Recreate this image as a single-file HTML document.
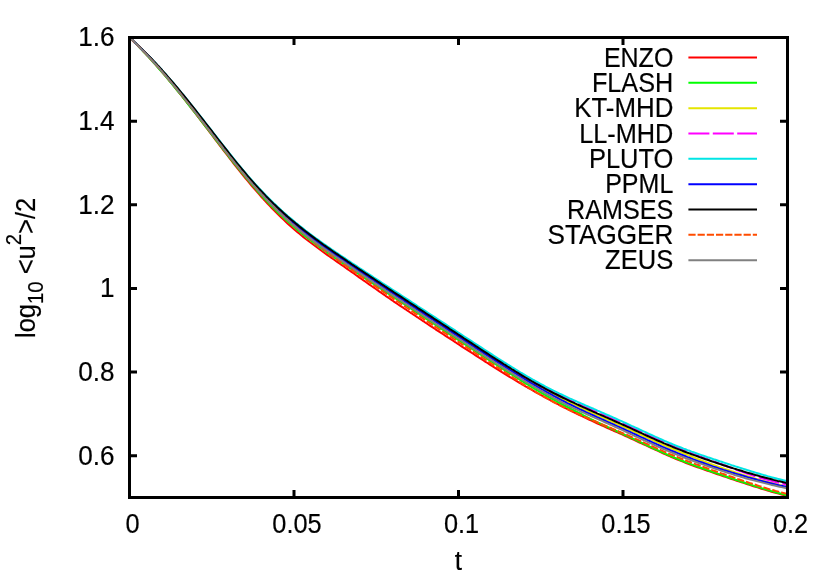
<!DOCTYPE html>
<html><head><meta charset="utf-8"><title>plot</title>
<style>html,body{margin:0;padding:0;background:#fff}#w{position:relative;width:830px;height:581px;overflow:hidden;background:#fff}#w svg{position:absolute;left:0;top:0;display:block}#t{position:absolute;left:0;top:0;width:830px;height:581px;will-change:transform;font-family:"Liberation Sans",sans-serif;font-size:83.10px;line-height:1;white-space:nowrap;color:#000;-webkit-text-stroke:0.6px #000}#t div{position:absolute;left:0;top:0;transform-origin:0 0}#t .s{font-size:.8em;position:relative}</style></head>
<body><div id="w">
<svg width="830" height="581" viewBox="0 0 830 581">
<defs><clipPath id="c"><rect x="129.5" y="37.5" width="658" height="460"/></clipPath></defs>
<rect width="830" height="581" fill="#fff"/>
<g fill="none" stroke-width="2" stroke-linejoin="round" clip-path="url(#c)">
<polyline stroke="#ff0000" points="129.5,37.5 131.5,39.4 133.5,41.4 135.5,43.3 137.5,45.3 139.5,47.4 141.5,49.4 143.5,51.5 145.5,53.6 147.5,55.7 149.5,57.9 151.5,60.1 153.5,62.3 155.5,64.5 157.5,66.8 159.5,69.0 161.5,71.4 163.5,73.7 165.5,76.0 167.5,78.4 169.5,80.8 171.5,83.2 173.5,85.6 175.5,88.1 177.5,90.6 179.5,93.0 181.5,95.5 183.5,98.1 185.5,100.6 187.5,103.1 189.5,105.7 191.5,108.3 193.5,110.9 195.5,113.5 197.5,116.1 199.5,118.7 201.5,121.3 203.5,123.9 205.5,126.6 207.5,129.2 209.5,131.9 211.5,134.5 213.5,137.1 215.5,139.8 217.5,142.4 219.5,145.1 221.5,147.7 223.5,150.3 225.5,152.9 227.5,155.5 229.5,158.1 231.5,160.7 233.5,163.3 235.5,165.8 237.5,168.3 239.5,170.8 241.5,173.3 243.5,175.8 245.5,178.3 247.5,180.7 249.5,183.1 251.5,185.5 253.5,187.8 255.5,190.1 257.5,192.4 259.5,194.7 261.5,197.0 263.5,199.2 265.5,201.3 267.5,203.5 269.5,205.6 271.5,207.7 273.5,209.8 275.5,211.8 277.5,213.8 279.5,215.8 281.5,217.7 283.5,219.6 285.5,221.5 287.5,223.4 289.5,225.2 291.5,227.0 293.5,228.7 295.5,230.5 297.5,232.2 299.5,233.8 301.5,235.5 303.5,237.1 305.5,238.7 307.5,240.2 309.5,241.8 311.5,243.3 313.5,244.8 315.5,246.3 317.5,247.8 319.5,249.3 321.5,250.7 323.5,252.2 325.5,253.6 327.5,255.1 329.5,256.5 331.5,257.9 333.5,259.3 335.5,260.7 337.5,262.1 339.5,263.5 341.5,264.9 343.5,266.3 345.5,267.7 347.5,269.1 349.5,270.5 351.5,271.9 353.5,273.3 355.5,274.7 357.5,276.1 359.5,277.6 361.5,279.0 363.5,280.4 365.5,281.8 367.5,283.2 369.5,284.6 371.5,286.0 373.5,287.4 375.5,288.8 377.5,290.2 379.5,291.6 381.5,293.0 383.5,294.4 385.5,295.8 387.5,297.1 389.5,298.5 391.5,299.9 393.5,301.3 395.5,302.6 397.5,304.0 399.5,305.3 401.5,306.6 403.5,308.0 405.5,309.3 407.5,310.7 409.5,312.0 411.5,313.3 413.5,314.7 415.5,316.0 417.5,317.3 419.5,318.7 421.5,320.0 423.5,321.3 425.5,322.7 427.5,324.0 429.5,325.3 431.5,326.6 433.5,327.9 435.5,329.3 437.5,330.6 439.5,331.9 441.5,333.2 443.5,334.5 445.5,335.8 447.5,337.1 449.5,338.4 451.5,339.7 453.5,341.0 455.5,342.3 457.5,343.7 459.5,345.0 461.5,346.3 463.5,347.6 465.5,348.9 467.5,350.1 469.5,351.4 471.5,352.7 473.5,354.0 475.5,355.3 477.5,356.6 479.5,357.9 481.5,359.2 483.5,360.5 485.5,361.8 487.5,363.0 489.5,364.3 491.5,365.6 493.5,366.8 495.5,368.1 497.5,369.4 499.5,370.6 501.5,371.9 503.5,373.1 505.5,374.4 507.5,375.6 509.5,376.8 511.5,378.0 513.5,379.2 515.5,380.4 517.5,381.6 519.5,382.8 521.5,384.0 523.5,385.1 525.5,386.3 527.5,387.5 529.5,388.6 531.5,389.7 533.5,390.9 535.5,392.0 537.5,393.1 539.5,394.2 541.5,395.3 543.5,396.4 545.5,397.5 547.5,398.6 549.5,399.7 551.5,400.8 553.5,401.8 555.5,402.9 557.5,403.9 559.5,405.0 561.5,406.0 563.5,407.0 565.5,408.1 567.5,409.1 569.5,410.0 571.5,411.0 573.5,412.0 575.5,413.0 577.5,414.0 579.5,415.0 581.5,415.9 583.5,416.9 585.5,417.9 587.5,418.8 589.5,419.8 591.5,420.7 593.5,421.7 595.5,422.6 597.5,423.5 599.5,424.4 601.5,425.3 603.5,426.2 605.5,427.1 607.5,428.0 609.5,428.9 611.5,429.8 613.5,430.7 615.5,431.5 617.5,432.4 619.5,433.3 621.5,434.2 623.5,435.1 625.5,436.0 627.5,436.9 629.5,437.9 631.5,438.8 633.5,439.7 635.5,440.6 637.5,441.5 639.5,442.5 641.5,443.4 643.5,444.3 645.5,445.2 647.5,446.2 649.5,447.1 651.5,448.0 653.5,448.9 655.5,449.8 657.5,450.7 659.5,451.7 661.5,452.6 663.5,453.5 665.5,454.4 667.5,455.3 669.5,456.1 671.5,457.0 673.5,457.9 675.5,458.7 677.5,459.5 679.5,460.3 681.5,461.1 683.5,461.9 685.5,462.7 687.5,463.5 689.5,464.2 691.5,465.0 693.5,465.7 695.5,466.5 697.5,467.2 699.5,467.9 701.5,468.6 703.5,469.3 705.5,470.0 707.5,470.7 709.5,471.4 711.5,472.1 713.5,472.8 715.5,473.5 717.5,474.2 719.5,474.9 721.5,475.5 723.5,476.2 725.5,476.9 727.5,477.6 729.5,478.3 731.5,479.0 733.5,479.6 735.5,480.3 737.5,481.0 739.5,481.6 741.5,482.3 743.5,482.9 745.5,483.6 747.5,484.2 749.5,484.9 751.5,485.5 753.5,486.2 755.5,486.8 757.5,487.4 759.5,488.0 761.5,488.7 763.5,489.3 765.5,489.9 767.5,490.5 769.5,491.1 771.5,491.7 773.5,492.2 775.5,492.8 777.5,493.4 779.5,493.9 781.5,494.5 783.5,495.0 785.5,495.6 787.5,496.1"/>
<polyline stroke="#00ff00" points="129.5,37.5 131.5,39.4 133.5,41.4 135.5,43.4 137.5,45.4 139.5,47.5 141.5,49.6 143.5,51.7 145.5,53.8 147.5,55.9 149.5,58.1 151.5,60.3 153.5,62.5 155.5,64.7 157.5,67.0 159.5,69.3 161.5,71.6 163.5,73.9 165.5,76.2 167.5,78.6 169.5,81.0 171.5,83.4 173.5,85.9 175.5,88.3 177.5,90.8 179.5,93.2 181.5,95.7 183.5,98.2 185.5,100.7 187.5,103.3 189.5,105.8 191.5,108.3 193.5,110.9 195.5,113.4 197.5,116.0 199.5,118.6 201.5,121.2 203.5,123.8 205.5,126.3 207.5,128.9 209.5,131.5 211.5,134.1 213.5,136.7 215.5,139.3 217.5,141.9 219.5,144.5 221.5,147.1 223.5,149.6 225.5,152.2 227.5,154.7 229.5,157.3 231.5,159.8 233.5,162.3 235.5,164.8 237.5,167.3 239.5,169.8 241.5,172.2 243.5,174.7 245.5,177.1 247.5,179.4 249.5,181.8 251.5,184.1 253.5,186.4 255.5,188.7 257.5,191.0 259.5,193.3 261.5,195.5 263.5,197.7 265.5,199.8 267.5,201.9 269.5,204.0 271.5,206.1 273.5,208.1 275.5,210.0 277.5,212.0 279.5,213.9 281.5,215.8 283.5,217.6 285.5,219.5 287.5,221.3 289.5,223.0 291.5,224.8 293.5,226.5 295.5,228.2 297.5,229.9 299.5,231.5 301.5,233.2 303.5,234.8 305.5,236.4 307.5,237.9 309.5,239.5 311.5,241.0 313.5,242.5 315.5,244.0 317.5,245.5 319.5,247.0 321.5,248.4 323.5,249.9 325.5,251.3 327.5,252.7 329.5,254.2 331.5,255.6 333.5,257.0 335.5,258.3 337.5,259.7 339.5,261.1 341.5,262.5 343.5,263.8 345.5,265.2 347.5,266.5 349.5,267.9 351.5,269.2 353.5,270.6 355.5,271.9 357.5,273.3 359.5,274.6 361.5,275.9 363.5,277.3 365.5,278.6 367.5,279.9 369.5,281.2 371.5,282.6 373.5,283.9 375.5,285.2 377.5,286.5 379.5,287.8 381.5,289.2 383.5,290.5 385.5,291.8 387.5,293.1 389.5,294.4 391.5,295.7 393.5,297.1 395.5,298.4 397.5,299.7 399.5,301.0 401.5,302.3 403.5,303.7 405.5,305.0 407.5,306.3 409.5,307.6 411.5,308.9 413.5,310.3 415.5,311.6 417.5,312.9 419.5,314.3 421.5,315.6 423.5,316.9 425.5,318.2 427.5,319.6 429.5,320.9 431.5,322.2 433.5,323.5 435.5,324.9 437.5,326.2 439.5,327.5 441.5,328.8 443.5,330.1 445.5,331.4 447.5,332.7 449.5,334.1 451.5,335.4 453.5,336.7 455.5,338.0 457.5,339.3 459.5,340.6 461.5,341.9 463.5,343.3 465.5,344.6 467.5,345.9 469.5,347.2 471.5,348.5 473.5,349.8 475.5,351.2 477.5,352.5 479.5,353.8 481.5,355.1 483.5,356.4 485.5,357.7 487.5,359.0 489.5,360.3 491.5,361.6 493.5,362.9 495.5,364.2 497.5,365.4 499.5,366.7 501.5,368.0 503.5,369.3 505.5,370.6 507.5,371.8 509.5,373.1 511.5,374.4 513.5,375.7 515.5,377.0 517.5,378.2 519.5,379.5 521.5,380.8 523.5,382.0 525.5,383.3 527.5,384.5 529.5,385.7 531.5,387.0 533.5,388.2 535.5,389.4 537.5,390.5 539.5,391.7 541.5,392.9 543.5,394.0 545.5,395.2 547.5,396.3 549.5,397.4 551.5,398.5 553.5,399.6 555.5,400.7 557.5,401.8 559.5,402.8 561.5,403.9 563.5,404.9 565.5,406.0 567.5,407.0 569.5,408.0 571.5,409.1 573.5,410.1 575.5,411.1 577.5,412.2 579.5,413.2 581.5,414.2 583.5,415.3 585.5,416.3 587.5,417.3 589.5,418.3 591.5,419.3 593.5,420.3 595.5,421.3 597.5,422.3 599.5,423.2 601.5,424.1 603.5,425.1 605.5,426.0 607.5,426.9 609.5,427.8 611.5,428.8 613.5,429.7 615.5,430.6 617.5,431.5 619.5,432.4 621.5,433.3 623.5,434.3 625.5,435.2 627.5,436.1 629.5,437.1 631.5,438.0 633.5,438.9 635.5,439.9 637.5,440.8 639.5,441.8 641.5,442.7 643.5,443.6 645.5,444.6 647.5,445.5 649.5,446.5 651.5,447.4 653.5,448.3 655.5,449.3 657.5,450.2 659.5,451.1 661.5,452.0 663.5,452.9 665.5,453.8 667.5,454.7 669.5,455.6 671.5,456.4 673.5,457.3 675.5,458.1 677.5,458.9 679.5,459.7 681.5,460.5 683.5,461.3 685.5,462.1 687.5,462.9 689.5,463.6 691.5,464.4 693.5,465.1 695.5,465.9 697.5,466.6 699.5,467.3 701.5,468.0 703.5,468.7 705.5,469.4 707.5,470.1 709.5,470.8 711.5,471.5 713.5,472.2 715.5,472.9 717.5,473.6 719.5,474.3 721.5,474.9 723.5,475.6 725.5,476.3 727.5,477.0 729.5,477.7 731.5,478.4 733.5,479.0 735.5,479.7 737.5,480.4 739.5,481.0 741.5,481.7 743.5,482.3 745.5,483.0 747.5,483.6 749.5,484.3 751.5,484.9 753.5,485.6 755.5,486.2 757.5,486.8 759.5,487.4 761.5,488.1 763.5,488.7 765.5,489.3 767.5,489.9 769.5,490.5 771.5,491.1 773.5,491.6 775.5,492.2 777.5,492.8 779.5,493.3 781.5,493.9 783.5,494.4 785.5,495.0 787.5,495.5"/>
<polyline stroke="#e5e500" points="129.5,37.5 131.5,39.3 133.5,41.2 135.5,43.1 137.5,45.1 139.5,47.0 141.5,49.0 143.5,51.0 145.5,53.0 147.5,55.1 149.5,57.2 151.5,59.3 153.5,61.5 155.5,63.6 157.5,65.8 159.5,68.0 161.5,70.3 163.5,72.5 165.5,74.8 167.5,77.1 169.5,79.4 171.5,81.8 173.5,84.2 175.5,86.5 177.5,88.9 179.5,91.4 181.5,93.8 183.5,96.2 185.5,98.7 187.5,101.2 189.5,103.7 191.5,106.2 193.5,108.7 195.5,111.2 197.5,113.8 199.5,116.3 201.5,118.9 203.5,121.4 205.5,124.0 207.5,126.6 209.5,129.1 211.5,131.7 213.5,134.3 215.5,136.9 217.5,139.5 219.5,142.0 221.5,144.6 223.5,147.2 225.5,149.7 227.5,152.2 229.5,154.8 231.5,157.3 233.5,159.8 235.5,162.3 237.5,164.8 239.5,167.2 241.5,169.6 243.5,172.0 245.5,174.4 247.5,176.8 249.5,179.1 251.5,181.4 253.5,183.7 255.5,185.9 257.5,188.1 259.5,190.3 261.5,192.4 263.5,194.5 265.5,196.6 267.5,198.6 269.5,200.6 271.5,202.6 273.5,204.6 275.5,206.5 277.5,208.4 279.5,210.3 281.5,212.1 283.5,213.9 285.5,215.7 287.5,217.5 289.5,219.2 291.5,220.9 293.5,222.6 295.5,224.3 297.5,225.9 299.5,227.5 301.5,229.1 303.5,230.7 305.5,232.3 307.5,233.8 309.5,235.4 311.5,236.9 313.5,238.4 315.5,239.9 317.5,241.3 319.5,242.8 321.5,244.2 323.5,245.7 325.5,247.1 327.5,248.5 329.5,249.9 331.5,251.3 333.5,252.7 335.5,254.1 337.5,255.4 339.5,256.8 341.5,258.2 343.5,259.5 345.5,260.9 347.5,262.3 349.5,263.6 351.5,265.0 353.5,266.3 355.5,267.7 357.5,269.0 359.5,270.4 361.5,271.7 363.5,273.0 365.5,274.4 367.5,275.7 369.5,277.0 371.5,278.4 373.5,279.7 375.5,281.0 377.5,282.4 379.5,283.7 381.5,285.0 383.5,286.3 385.5,287.7 387.5,289.0 389.5,290.3 391.5,291.6 393.5,293.0 395.5,294.3 397.5,295.6 399.5,296.9 401.5,298.2 403.5,299.5 405.5,300.9 407.5,302.2 409.5,303.5 411.5,304.8 413.5,306.1 415.5,307.4 417.5,308.8 419.5,310.1 421.5,311.4 423.5,312.7 425.5,314.0 427.5,315.3 429.5,316.6 431.5,317.9 433.5,319.3 435.5,320.6 437.5,321.9 439.5,323.2 441.5,324.5 443.5,325.8 445.5,327.1 447.5,328.4 449.5,329.8 451.5,331.1 453.5,332.4 455.5,333.7 457.5,335.0 459.5,336.3 461.5,337.6 463.5,339.0 465.5,340.3 467.5,341.6 469.5,342.9 471.5,344.2 473.5,345.5 475.5,346.9 477.5,348.2 479.5,349.5 481.5,350.8 483.5,352.1 485.5,353.4 487.5,354.7 489.5,356.0 491.5,357.3 493.5,358.6 495.5,359.9 497.5,361.1 499.5,362.4 501.5,363.7 503.5,365.0 505.5,366.2 507.5,367.5 509.5,368.8 511.5,370.0 513.5,371.3 515.5,372.5 517.5,373.7 519.5,375.0 521.5,376.2 523.5,377.4 525.5,378.6 527.5,379.8 529.5,381.0 531.5,382.1 533.5,383.3 535.5,384.5 537.5,385.6 539.5,386.7 541.5,387.9 543.5,389.0 545.5,390.1 547.5,391.2 549.5,392.2 551.5,393.3 553.5,394.4 555.5,395.4 557.5,396.4 559.5,397.5 561.5,398.5 563.5,399.5 565.5,400.5 567.5,401.5 569.5,402.5 571.5,403.4 573.5,404.4 575.5,405.3 577.5,406.3 579.5,407.2 581.5,408.2 583.5,409.1 585.5,410.0 587.5,410.9 589.5,411.9 591.5,412.8 593.5,413.7 595.5,414.6 597.5,415.4 599.5,416.3 601.5,417.2 603.5,418.1 605.5,419.0 607.5,419.8 609.5,420.7 611.5,421.6 613.5,422.5 615.5,423.4 617.5,424.3 619.5,425.1 621.5,426.0 623.5,426.9 625.5,427.8 627.5,428.7 629.5,429.6 631.5,430.6 633.5,431.5 635.5,432.4 637.5,433.3 639.5,434.2 641.5,435.1 643.5,436.0 645.5,437.0 647.5,437.9 649.5,438.8 651.5,439.7 653.5,440.6 655.5,441.5 657.5,442.4 659.5,443.3 661.5,444.1 663.5,445.0 665.5,445.9 667.5,446.8 669.5,447.6 671.5,448.5 673.5,449.3 675.5,450.1 677.5,450.9 679.5,451.7 681.5,452.5 683.5,453.3 685.5,454.1 687.5,454.9 689.5,455.7 691.5,456.5 693.5,457.3 695.5,458.1 697.5,458.9 699.5,459.7 701.5,460.4 703.5,461.2 705.5,461.9 707.5,462.7 709.5,463.4 711.5,464.2 713.5,464.9 715.5,465.6 717.5,466.4 719.5,467.1 721.5,467.8 723.5,468.4 725.5,469.1 727.5,469.8 729.5,470.5 731.5,471.1 733.5,471.8 735.5,472.5 737.5,473.1 739.5,473.7 741.5,474.4 743.5,475.0 745.5,475.6 747.5,476.2 749.5,476.8 751.5,477.4 753.5,478.0 755.5,478.6 757.5,479.2 759.5,479.8 761.5,480.4 763.5,480.9 765.5,481.5 767.5,482.0 769.5,482.5 771.5,483.0 773.5,483.5 775.5,484.0 777.5,484.5 779.5,485.0 781.5,485.4 783.5,485.9 785.5,486.3 787.5,486.7"/>
<polyline stroke="#ff00ff" stroke-dasharray="21 3.4" points="129.5,37.5 131.5,39.3 133.5,41.2 135.5,43.1 137.5,45.1 139.5,47.0 141.5,49.0 143.5,51.0 145.5,53.0 147.5,55.1 149.5,57.2 151.5,59.3 153.5,61.5 155.5,63.6 157.5,65.8 159.5,68.0 161.5,70.3 163.5,72.5 165.5,74.8 167.5,77.1 169.5,79.4 171.5,81.8 173.5,84.2 175.5,86.5 177.5,88.9 179.5,91.4 181.5,93.8 183.5,96.2 185.5,98.7 187.5,101.2 189.5,103.7 191.5,106.2 193.5,108.7 195.5,111.2 197.5,113.8 199.5,116.3 201.5,118.9 203.5,121.4 205.5,124.0 207.5,126.6 209.5,129.1 211.5,131.7 213.5,134.3 215.5,136.9 217.5,139.5 219.5,142.0 221.5,144.6 223.5,147.2 225.5,149.7 227.5,152.2 229.5,154.8 231.5,157.3 233.5,159.8 235.5,162.3 237.5,164.8 239.5,167.2 241.5,169.6 243.5,172.0 245.5,174.4 247.5,176.8 249.5,179.1 251.5,181.4 253.5,183.7 255.5,185.9 257.5,188.0 259.5,190.2 261.5,192.3 263.5,194.4 265.5,196.4 267.5,198.4 269.5,200.4 271.5,202.4 273.5,204.3 275.5,206.2 277.5,208.1 279.5,210.0 281.5,211.8 283.5,213.6 285.5,215.4 287.5,217.1 289.5,218.9 291.5,220.6 293.5,222.2 295.5,223.9 297.5,225.5 299.5,227.1 301.5,228.7 303.5,230.3 305.5,231.9 307.5,233.4 309.5,234.9 311.5,236.4 313.5,237.9 315.5,239.4 317.5,240.8 319.5,242.3 321.5,243.7 323.5,245.1 325.5,246.5 327.5,247.9 329.5,249.3 331.5,250.7 333.5,252.1 335.5,253.5 337.5,254.8 339.5,256.2 341.5,257.6 343.5,258.9 345.5,260.3 347.5,261.6 349.5,263.0 351.5,264.3 353.5,265.7 355.5,267.0 357.5,268.3 359.5,269.7 361.5,271.0 363.5,272.4 365.5,273.7 367.5,275.0 369.5,276.3 371.5,277.7 373.5,279.0 375.5,280.3 377.5,281.6 379.5,283.0 381.5,284.3 383.5,285.6 385.5,286.9 387.5,288.2 389.5,289.6 391.5,290.9 393.5,292.2 395.5,293.5 397.5,294.8 399.5,296.1 401.5,297.4 403.5,298.7 405.5,300.0 407.5,301.3 409.5,302.6 411.5,303.9 413.5,305.2 415.5,306.5 417.5,307.8 419.5,309.1 421.5,310.4 423.5,311.7 425.5,313.1 427.5,314.4 429.5,315.7 431.5,317.0 433.5,318.3 435.5,319.6 437.5,320.9 439.5,322.2 441.5,323.5 443.5,324.8 445.5,326.1 447.5,327.4 449.5,328.8 451.5,330.1 453.5,331.4 455.5,332.7 457.5,334.0 459.5,335.3 461.5,336.6 463.5,338.0 465.5,339.3 467.5,340.6 469.5,341.9 471.5,343.2 473.5,344.5 475.5,345.9 477.5,347.2 479.5,348.5 481.5,349.8 483.5,351.1 485.5,352.4 487.5,353.7 489.5,355.0 491.5,356.3 493.5,357.6 495.5,358.9 497.5,360.1 499.5,361.4 501.5,362.7 503.5,364.0 505.5,365.2 507.5,366.5 509.5,367.7 511.5,368.9 513.5,370.2 515.5,371.4 517.5,372.6 519.5,373.8 521.5,375.0 523.5,376.2 525.5,377.3 527.5,378.5 529.5,379.7 531.5,380.8 533.5,381.9 535.5,383.0 537.5,384.1 539.5,385.2 541.5,386.3 543.5,387.4 545.5,388.4 547.5,389.5 549.5,390.5 551.5,391.5 553.5,392.5 555.5,393.5 557.5,394.4 559.5,395.4 561.5,396.3 563.5,397.3 565.5,398.2 567.5,399.1 569.5,400.1 571.5,401.0 573.5,401.9 575.5,402.8 577.5,403.7 579.5,404.5 581.5,405.4 583.5,406.3 585.5,407.2 587.5,408.0 589.5,408.9 591.5,409.8 593.5,410.6 595.5,411.5 597.5,412.4 599.5,413.2 601.5,414.1 603.5,415.0 605.5,415.9 607.5,416.7 609.5,417.6 611.5,418.5 613.5,419.4 615.5,420.3 617.5,421.2 619.5,422.0 621.5,422.9 623.5,423.8 625.5,424.7 627.5,425.6 629.5,426.5 631.5,427.5 633.5,428.4 635.5,429.3 637.5,430.2 639.5,431.1 641.5,432.0 643.5,432.9 645.5,433.9 647.5,434.8 649.5,435.7 651.5,436.6 653.5,437.5 655.5,438.4 657.5,439.3 659.5,440.2 661.5,441.0 663.5,441.9 665.5,442.8 667.5,443.7 669.5,444.5 671.5,445.4 673.5,446.2 675.5,447.0 677.5,447.8 679.5,448.6 681.5,449.4 683.5,450.2 685.5,451.0 687.5,451.8 689.5,452.6 691.5,453.3 693.5,454.1 695.5,454.8 697.5,455.6 699.5,456.3 701.5,457.0 703.5,457.8 705.5,458.5 707.5,459.2 709.5,460.0 711.5,460.7 713.5,461.4 715.5,462.1 717.5,462.8 719.5,463.6 721.5,464.3 723.5,465.0 725.5,465.8 727.5,466.5 729.5,467.3 731.5,468.0 733.5,468.8 735.5,469.5 737.5,470.2 739.5,470.9 741.5,471.6 743.5,472.3 745.5,473.0 747.5,473.7 749.5,474.3 751.5,475.0 753.5,475.7 755.5,476.3 757.5,477.0 759.5,477.6 761.5,478.2 763.5,478.8 765.5,479.3 767.5,479.9 769.5,480.4 771.5,480.9 773.5,481.5 775.5,482.0 777.5,482.5 779.5,482.9 781.5,483.4 783.5,483.9 785.5,484.4 787.5,484.8"/>
<polyline stroke="#00e5e5" points="129.5,37.5 131.5,39.3 133.5,41.1 135.5,43.0 137.5,44.9 139.5,46.8 141.5,48.7 143.5,50.7 145.5,52.7 147.5,54.7 149.5,56.7 151.5,58.8 153.5,60.9 155.5,63.0 157.5,65.2 159.5,67.3 161.5,69.5 163.5,71.8 165.5,74.0 167.5,76.3 169.5,78.6 171.5,80.9 173.5,83.2 175.5,85.6 177.5,88.0 179.5,90.4 181.5,92.8 183.5,95.2 185.5,97.7 187.5,100.1 189.5,102.6 191.5,105.1 193.5,107.6 195.5,110.1 197.5,112.6 199.5,115.1 201.5,117.6 203.5,120.2 205.5,122.8 207.5,125.3 209.5,127.9 211.5,130.4 213.5,133.0 215.5,135.6 217.5,138.1 219.5,140.7 221.5,143.3 223.5,145.8 225.5,148.4 227.5,150.9 229.5,153.4 231.5,155.9 233.5,158.4 235.5,160.9 237.5,163.3 239.5,165.8 241.5,168.2 243.5,170.6 245.5,173.0 247.5,175.3 249.5,177.6 251.5,179.9 253.5,182.1 255.5,184.3 257.5,186.5 259.5,188.7 261.5,190.8 263.5,192.9 265.5,194.9 267.5,196.9 269.5,198.9 271.5,200.9 273.5,202.9 275.5,204.8 277.5,206.7 279.5,208.5 281.5,210.4 283.5,212.2 285.5,213.9 287.5,215.7 289.5,217.4 291.5,219.1 293.5,220.8 295.5,222.5 297.5,224.1 299.5,225.7 301.5,227.3 303.5,228.9 305.5,230.5 307.5,232.0 309.5,233.5 311.5,235.0 313.5,236.5 315.5,238.0 317.5,239.4 319.5,240.9 321.5,242.3 323.5,243.7 325.5,245.1 327.5,246.5 329.5,247.9 331.5,249.3 333.5,250.6 335.5,252.0 337.5,253.3 339.5,254.7 341.5,256.1 343.5,257.4 345.5,258.7 347.5,260.1 349.5,261.4 351.5,262.8 353.5,264.1 355.5,265.4 357.5,266.7 359.5,268.1 361.5,269.4 363.5,270.7 365.5,272.0 367.5,273.3 369.5,274.6 371.5,275.9 373.5,277.3 375.5,278.6 377.5,279.9 379.5,281.2 381.5,282.5 383.5,283.8 385.5,285.1 387.5,286.4 389.5,287.7 391.5,289.0 393.5,290.3 395.5,291.6 397.5,292.9 399.5,294.2 401.5,295.5 403.5,296.8 405.5,298.1 407.5,299.4 409.5,300.7 411.5,302.0 413.5,303.3 415.5,304.6 417.5,306.0 419.5,307.3 421.5,308.6 423.5,309.9 425.5,311.2 427.5,312.5 429.5,313.8 431.5,315.1 433.5,316.4 435.5,317.7 437.5,319.0 439.5,320.3 441.5,321.6 443.5,322.9 445.5,324.2 447.5,325.5 449.5,326.8 451.5,328.1 453.5,329.4 455.5,330.7 457.5,332.1 459.5,333.4 461.5,334.7 463.5,336.0 465.5,337.3 467.5,338.6 469.5,339.9 471.5,341.2 473.5,342.5 475.5,343.8 477.5,345.1 479.5,346.4 481.5,347.7 483.5,349.0 485.5,350.3 487.5,351.6 489.5,352.9 491.5,354.2 493.5,355.5 495.5,356.8 497.5,358.1 499.5,359.3 501.5,360.6 503.5,361.9 505.5,363.1 507.5,364.4 509.5,365.6 511.5,366.9 513.5,368.1 515.5,369.3 517.5,370.5 519.5,371.8 521.5,373.0 523.5,374.1 525.5,375.3 527.5,376.5 529.5,377.7 531.5,378.8 533.5,380.0 535.5,381.1 537.5,382.2 539.5,383.3 541.5,384.4 543.5,385.5 545.5,386.6 547.5,387.6 549.5,388.6 551.5,389.7 553.5,390.7 555.5,391.6 557.5,392.6 559.5,393.6 561.5,394.5 563.5,395.5 565.5,396.4 567.5,397.3 569.5,398.3 571.5,399.2 573.5,400.1 575.5,401.0 577.5,401.9 579.5,402.7 581.5,403.6 583.5,404.5 585.5,405.4 587.5,406.2 589.5,407.1 591.5,408.0 593.5,408.8 595.5,409.7 597.5,410.6 599.5,411.4 601.5,412.3 603.5,413.2 605.5,414.1 607.5,415.0 609.5,415.8 611.5,416.7 613.5,417.6 615.5,418.5 617.5,419.4 619.5,420.3 621.5,421.2 623.5,422.1 625.5,423.0 627.5,423.9 629.5,424.8 631.5,425.8 633.5,426.7 635.5,427.6 637.5,428.5 639.5,429.5 641.5,430.4 643.5,431.3 645.5,432.2 647.5,433.2 649.5,434.1 651.5,435.0 653.5,435.9 655.5,436.8 657.5,437.7 659.5,438.6 661.5,439.5 663.5,440.4 665.5,441.3 667.5,442.1 669.5,443.0 671.5,443.8 673.5,444.6 675.5,445.5 677.5,446.3 679.5,447.0 681.5,447.8 683.5,448.6 685.5,449.3 687.5,450.1 689.5,450.8 691.5,451.6 693.5,452.3 695.5,453.0 697.5,453.7 699.5,454.4 701.5,455.1 703.5,455.8 705.5,456.5 707.5,457.2 709.5,457.8 711.5,458.5 713.5,459.2 715.5,459.8 717.5,460.5 719.5,461.2 721.5,461.8 723.5,462.5 725.5,463.1 727.5,463.8 729.5,464.4 731.5,465.1 733.5,465.7 735.5,466.4 737.5,467.0 739.5,467.6 741.5,468.3 743.5,468.9 745.5,469.5 747.5,470.1 749.5,470.8 751.5,471.4 753.5,472.0 755.5,472.6 757.5,473.2 759.5,473.8 761.5,474.4 763.5,475.0 765.5,475.5 767.5,476.1 769.5,476.6 771.5,477.2 773.5,477.7 775.5,478.2 777.5,478.8 779.5,479.3 781.5,479.8 783.5,480.3 785.5,480.7 787.5,481.2"/>
<polyline stroke="#0000ff" points="129.5,37.5 131.5,39.3 133.5,41.2 135.5,43.1 137.5,45.1 139.5,47.0 141.5,49.0 143.5,51.0 145.5,53.0 147.5,55.1 149.5,57.2 151.5,59.3 153.5,61.5 155.5,63.6 157.5,65.8 159.5,68.0 161.5,70.3 163.5,72.5 165.5,74.8 167.5,77.1 169.5,79.4 171.5,81.8 173.5,84.2 175.5,86.5 177.5,88.9 179.5,91.4 181.5,93.8 183.5,96.2 185.5,98.7 187.5,101.2 189.5,103.7 191.5,106.2 193.5,108.7 195.5,111.2 197.5,113.8 199.5,116.3 201.5,118.9 203.5,121.4 205.5,124.0 207.5,126.6 209.5,129.1 211.5,131.7 213.5,134.3 215.5,136.9 217.5,139.5 219.5,142.1 221.5,144.6 223.5,147.2 225.5,149.8 227.5,152.3 229.5,154.9 231.5,157.4 233.5,159.9 235.5,162.4 237.5,164.9 239.5,167.3 241.5,169.8 243.5,172.2 245.5,174.6 247.5,177.0 249.5,179.3 251.5,181.6 253.5,183.9 255.5,186.2 257.5,188.4 259.5,190.6 261.5,192.8 263.5,194.9 265.5,197.0 267.5,199.1 269.5,201.1 271.5,203.1 273.5,205.1 275.5,207.1 277.5,209.0 279.5,210.9 281.5,212.7 283.5,214.6 285.5,216.4 287.5,218.2 289.5,219.9 291.5,221.7 293.5,223.4 295.5,225.1 297.5,226.7 299.5,228.3 301.5,229.9 303.5,231.5 305.5,233.1 307.5,234.6 309.5,236.2 311.5,237.7 313.5,239.2 315.5,240.6 317.5,242.1 319.5,243.5 321.5,245.0 323.5,246.4 325.5,247.8 327.5,249.2 329.5,250.6 331.5,252.0 333.5,253.4 335.5,254.8 337.5,256.1 339.5,257.5 341.5,258.9 343.5,260.2 345.5,261.6 347.5,263.0 349.5,264.3 351.5,265.7 353.5,267.0 355.5,268.4 357.5,269.7 359.5,271.1 361.5,272.4 363.5,273.8 365.5,275.1 367.5,276.5 369.5,277.8 371.5,279.2 373.5,280.5 375.5,281.8 377.5,283.2 379.5,284.5 381.5,285.8 383.5,287.2 385.5,288.5 387.5,289.8 389.5,291.2 391.5,292.5 393.5,293.8 395.5,295.2 397.5,296.5 399.5,297.8 401.5,299.1 403.5,300.5 405.5,301.8 407.5,303.1 409.5,304.4 411.5,305.7 413.5,307.1 415.5,308.4 417.5,309.7 419.5,311.0 421.5,312.3 423.5,313.7 425.5,315.0 427.5,316.3 429.5,317.6 431.5,318.9 433.5,320.2 435.5,321.6 437.5,322.9 439.5,324.2 441.5,325.5 443.5,326.8 445.5,328.1 447.5,329.4 449.5,330.8 451.5,332.1 453.5,333.4 455.5,334.7 457.5,336.0 459.5,337.3 461.5,338.6 463.5,340.0 465.5,341.3 467.5,342.6 469.5,343.9 471.5,345.2 473.5,346.5 475.5,347.9 477.5,349.2 479.5,350.5 481.5,351.8 483.5,353.1 485.5,354.4 487.5,355.7 489.5,357.0 491.5,358.3 493.5,359.6 495.5,360.9 497.5,362.1 499.5,363.4 501.5,364.7 503.5,366.0 505.5,367.2 507.5,368.5 509.5,369.8 511.5,371.0 513.5,372.3 515.5,373.5 517.5,374.8 519.5,376.0 521.5,377.2 523.5,378.5 525.5,379.7 527.5,380.9 529.5,382.1 531.5,383.3 533.5,384.5 535.5,385.6 537.5,386.8 539.5,387.9 541.5,389.1 543.5,390.2 545.5,391.3 547.5,392.5 549.5,393.6 551.5,394.7 553.5,395.8 555.5,396.9 557.5,398.0 559.5,399.1 561.5,400.2 563.5,401.2 565.5,402.2 567.5,403.3 569.5,404.2 571.5,405.2 573.5,406.2 575.5,407.2 577.5,408.1 579.5,409.1 581.5,410.0 583.5,410.9 585.5,411.9 587.5,412.8 589.5,413.7 591.5,414.6 593.5,415.5 595.5,416.4 597.5,417.3 599.5,418.2 601.5,419.1 603.5,420.0 605.5,420.9 607.5,421.8 609.5,422.7 611.5,423.6 613.5,424.5 615.5,425.4 617.5,426.3 619.5,427.2 621.5,428.1 623.5,429.0 625.5,429.9 627.5,430.8 629.5,431.7 631.5,432.7 633.5,433.6 635.5,434.5 637.5,435.4 639.5,436.4 641.5,437.3 643.5,438.2 645.5,439.1 647.5,440.1 649.5,441.0 651.5,441.9 653.5,442.8 655.5,443.7 657.5,444.6 659.5,445.5 661.5,446.4 663.5,447.3 665.5,448.1 667.5,449.0 669.5,449.8 671.5,450.7 673.5,451.5 675.5,452.3 677.5,453.1 679.5,453.9 681.5,454.7 683.5,455.5 685.5,456.3 687.5,457.1 689.5,457.8 691.5,458.6 693.5,459.4 695.5,460.1 697.5,460.9 699.5,461.6 701.5,462.3 703.5,463.0 705.5,463.8 707.5,464.5 709.5,465.2 711.5,465.9 713.5,466.6 715.5,467.2 717.5,467.9 719.5,468.6 721.5,469.2 723.5,469.9 725.5,470.5 727.5,471.1 729.5,471.7 731.5,472.4 733.5,473.0 735.5,473.6 737.5,474.2 739.5,474.7 741.5,475.3 743.5,475.9 745.5,476.5 747.5,477.1 749.5,477.6 751.5,478.2 753.5,478.8 755.5,479.3 757.5,479.9 759.5,480.4 761.5,480.9 763.5,481.5 765.5,482.0 767.5,482.5 769.5,483.0 771.5,483.5 773.5,484.0 775.5,484.5 777.5,484.9 779.5,485.4 781.5,485.8 783.5,486.3 785.5,486.7 787.5,487.1"/>
<polyline stroke="#000000" points="129.5,37.5 131.5,39.3 133.5,41.1 135.5,43.0 137.5,44.9 139.5,46.8 141.5,48.7 143.5,50.7 145.5,52.7 147.5,54.7 149.5,56.7 151.5,58.8 153.5,60.9 155.5,63.0 157.5,65.2 159.5,67.3 161.5,69.5 163.5,71.8 165.5,74.0 167.5,76.3 169.5,78.6 171.5,80.9 173.5,83.2 175.5,85.6 177.5,88.0 179.5,90.4 181.5,92.8 183.5,95.2 185.5,97.7 187.5,100.2 189.5,102.7 191.5,105.2 193.5,107.7 195.5,110.2 197.5,112.8 199.5,115.3 201.5,117.9 203.5,120.4 205.5,123.0 207.5,125.6 209.5,128.1 211.5,130.7 213.5,133.3 215.5,135.9 217.5,138.5 219.5,141.0 221.5,143.6 223.5,146.2 225.5,148.7 227.5,151.2 229.5,153.8 231.5,156.3 233.5,158.8 235.5,161.3 237.5,163.8 239.5,166.2 241.5,168.6 243.5,171.0 245.5,173.4 247.5,175.8 249.5,178.1 251.5,180.4 253.5,182.7 255.5,184.9 257.5,187.1 259.5,189.3 261.5,191.4 263.5,193.5 265.5,195.6 267.5,197.6 269.5,199.6 271.5,201.6 273.5,203.6 275.5,205.5 277.5,207.4 279.5,209.3 281.5,211.1 283.5,212.9 285.5,214.7 287.5,216.5 289.5,218.2 291.5,219.9 293.5,221.6 295.5,223.3 297.5,224.9 299.5,226.5 301.5,228.1 303.5,229.7 305.5,231.3 307.5,232.8 309.5,234.4 311.5,235.9 313.5,237.4 315.5,238.9 317.5,240.3 319.5,241.8 321.5,243.2 323.5,244.7 325.5,246.1 327.5,247.5 329.5,248.9 331.5,250.3 333.5,251.7 335.5,253.1 337.5,254.4 339.5,255.8 341.5,257.2 343.5,258.5 345.5,259.9 347.5,261.3 349.5,262.6 351.5,264.0 353.5,265.3 355.5,266.7 357.5,268.0 359.5,269.4 361.5,270.7 363.5,272.0 365.5,273.4 367.5,274.7 369.5,276.0 371.5,277.4 373.5,278.7 375.5,280.0 377.5,281.4 379.5,282.7 381.5,284.0 383.5,285.3 385.5,286.7 387.5,288.0 389.5,289.3 391.5,290.6 393.5,292.0 395.5,293.3 397.5,294.6 399.5,295.9 401.5,297.2 403.5,298.5 405.5,299.9 407.5,301.2 409.5,302.5 411.5,303.8 413.5,305.1 415.5,306.4 417.5,307.8 419.5,309.1 421.5,310.4 423.5,311.7 425.5,313.0 427.5,314.3 429.5,315.6 431.5,316.9 433.5,318.3 435.5,319.6 437.5,320.9 439.5,322.2 441.5,323.5 443.5,324.8 445.5,326.1 447.5,327.4 449.5,328.8 451.5,330.1 453.5,331.4 455.5,332.7 457.5,334.0 459.5,335.3 461.5,336.6 463.5,338.0 465.5,339.3 467.5,340.6 469.5,341.9 471.5,343.2 473.5,344.5 475.5,345.9 477.5,347.2 479.5,348.5 481.5,349.8 483.5,351.1 485.5,352.4 487.5,353.7 489.5,355.0 491.5,356.3 493.5,357.6 495.5,358.9 497.5,360.1 499.5,361.4 501.5,362.7 503.5,364.0 505.5,365.2 507.5,366.5 509.5,367.7 511.5,369.0 513.5,370.2 515.5,371.5 517.5,372.7 519.5,373.9 521.5,375.1 523.5,376.3 525.5,377.5 527.5,378.7 529.5,379.8 531.5,381.0 533.5,382.2 535.5,383.3 537.5,384.4 539.5,385.5 541.5,386.6 543.5,387.7 545.5,388.8 547.5,389.9 549.5,390.9 551.5,392.0 553.5,393.0 555.5,394.0 557.5,395.0 559.5,396.0 561.5,397.0 563.5,398.0 565.5,398.9 567.5,399.9 569.5,400.9 571.5,401.8 573.5,402.7 575.5,403.7 577.5,404.6 579.5,405.5 581.5,406.4 583.5,407.3 585.5,408.2 587.5,409.1 589.5,410.0 591.5,410.9 593.5,411.8 595.5,412.7 597.5,413.6 599.5,414.4 601.5,415.3 603.5,416.2 605.5,417.1 607.5,417.9 609.5,418.8 611.5,419.7 613.5,420.6 615.5,421.5 617.5,422.4 619.5,423.2 621.5,424.1 623.5,425.0 625.5,425.9 627.5,426.8 629.5,427.7 631.5,428.7 633.5,429.6 635.5,430.5 637.5,431.4 639.5,432.3 641.5,433.2 643.5,434.1 645.5,435.1 647.5,436.0 649.5,436.9 651.5,437.8 653.5,438.7 655.5,439.6 657.5,440.5 659.5,441.3 661.5,442.2 663.5,443.1 665.5,443.9 667.5,444.8 669.5,445.6 671.5,446.4 673.5,447.3 675.5,448.1 677.5,448.9 679.5,449.6 681.5,450.4 683.5,451.2 685.5,452.0 687.5,452.7 689.5,453.4 691.5,454.2 693.5,454.9 695.5,455.6 697.5,456.3 699.5,457.1 701.5,457.8 703.5,458.5 705.5,459.2 707.5,459.8 709.5,460.5 711.5,461.2 713.5,461.9 715.5,462.5 717.5,463.2 719.5,463.9 721.5,464.5 723.5,465.2 725.5,465.8 727.5,466.5 729.5,467.1 731.5,467.7 733.5,468.4 735.5,469.0 737.5,469.6 739.5,470.2 741.5,470.8 743.5,471.5 745.5,472.1 747.5,472.7 749.5,473.2 751.5,473.8 753.5,474.4 755.5,475.0 757.5,475.5 759.5,476.1 761.5,476.7 763.5,477.2 765.5,477.8 767.5,478.3 769.5,478.8 771.5,479.3 773.5,479.9 775.5,480.4 777.5,480.9 779.5,481.3 781.5,481.8 783.5,482.3 785.5,482.8 787.5,483.2"/>
<polyline stroke="#ff4c00" stroke-dasharray="7.2 2" points="129.5,37.5 131.5,39.4 133.5,41.3 135.5,43.3 137.5,45.2 139.5,47.2 141.5,49.3 143.5,51.3 145.5,53.4 147.5,55.5 149.5,57.6 151.5,59.8 153.5,62.0 155.5,64.2 157.5,66.4 159.5,68.7 161.5,71.0 163.5,73.3 165.5,75.6 167.5,78.0 169.5,80.4 171.5,82.8 173.5,85.2 175.5,87.6 177.5,90.1 179.5,92.5 181.5,95.0 183.5,97.5 185.5,100.0 187.5,102.5 189.5,105.0 191.5,107.6 193.5,110.1 195.5,112.7 197.5,115.2 199.5,117.8 201.5,120.4 203.5,122.9 205.5,125.5 207.5,128.1 209.5,130.7 211.5,133.3 213.5,135.9 215.5,138.5 217.5,141.0 219.5,143.6 221.5,146.2 223.5,148.8 225.5,151.3 227.5,153.9 229.5,156.4 231.5,158.9 233.5,161.4 235.5,163.9 237.5,166.4 239.5,168.9 241.5,171.3 243.5,173.7 245.5,176.1 247.5,178.5 249.5,180.8 251.5,183.1 253.5,185.4 255.5,187.6 257.5,189.9 259.5,192.0 261.5,194.2 263.5,196.3 265.5,198.4 267.5,200.5 269.5,202.5 271.5,204.5 273.5,206.5 275.5,208.5 277.5,210.4 279.5,212.3 281.5,214.2 283.5,216.1 285.5,217.9 287.5,219.7 289.5,221.5 291.5,223.3 293.5,225.0 295.5,226.7 297.5,228.4 299.5,230.1 301.5,231.8 303.5,233.4 305.5,235.1 307.5,236.7 309.5,238.3 311.5,239.9 313.5,241.5 315.5,243.1 317.5,244.6 319.5,246.2 321.5,247.7 323.5,249.3 325.5,250.8 327.5,252.3 329.5,253.8 331.5,255.3 333.5,256.7 335.5,258.2 337.5,259.6 339.5,261.1 341.5,262.5 343.5,264.0 345.5,265.4 347.5,266.8 349.5,268.2 351.5,269.6 353.5,271.1 355.5,272.5 357.5,273.9 359.5,275.3 361.5,276.7 363.5,278.1 365.5,279.5 367.5,280.9 369.5,282.3 371.5,283.7 373.5,285.0 375.5,286.4 377.5,287.8 379.5,289.2 381.5,290.6 383.5,291.9 385.5,293.3 387.5,294.7 389.5,296.0 391.5,297.4 393.5,298.8 395.5,300.1 397.5,301.5 399.5,302.8 401.5,304.2 403.5,305.5 405.5,306.8 407.5,308.2 409.5,309.5 411.5,310.9 413.5,312.2 415.5,313.6 417.5,314.9 419.5,316.2 421.5,317.6 423.5,318.9 425.5,320.2 427.5,321.6 429.5,322.9 431.5,324.2 433.5,325.5 435.5,326.9 437.5,328.2 439.5,329.5 441.5,330.8 443.5,332.1 445.5,333.4 447.5,334.7 449.5,336.1 451.5,337.4 453.5,338.7 455.5,340.0 457.5,341.3 459.5,342.6 461.5,343.9 463.5,345.3 465.5,346.6 467.5,347.9 469.5,349.2 471.5,350.5 473.5,351.8 475.5,353.2 477.5,354.5 479.5,355.8 481.5,357.1 483.5,358.4 485.5,359.7 487.5,361.0 489.5,362.3 491.5,363.6 493.5,364.9 495.5,366.2 497.5,367.4 499.5,368.7 501.5,370.0 503.5,371.3 505.5,372.6 507.5,373.9 509.5,375.2 511.5,376.5 513.5,377.8 515.5,379.1 517.5,380.4 519.5,381.8 521.5,383.1 523.5,384.4 525.5,385.6 527.5,386.9 529.5,388.2 531.5,389.4 533.5,390.7 535.5,391.9 537.5,393.1 539.5,394.2 541.5,395.4 543.5,396.5 545.5,397.6 547.5,398.7 549.5,399.8 551.5,400.9 553.5,402.0 555.5,403.1 557.5,404.1 559.5,405.1 561.5,406.1 563.5,407.1 565.5,408.1 567.5,409.1 569.5,410.1 571.5,411.0 573.5,411.9 575.5,412.8 577.5,413.7 579.5,414.6 581.5,415.5 583.5,416.4 585.5,417.3 587.5,418.1 589.5,419.0 591.5,419.8 593.5,420.7 595.5,421.5 597.5,422.4 599.5,423.2 601.5,424.1 603.5,424.9 605.5,425.8 607.5,426.6 609.5,427.5 611.5,428.3 613.5,429.2 615.5,430.0 617.5,430.9 619.5,431.8 621.5,432.6 623.5,433.5 625.5,434.3 627.5,435.2 629.5,436.1 631.5,437.0 633.5,437.9 635.5,438.8 637.5,439.7 639.5,440.6 641.5,441.5 643.5,442.4 645.5,443.3 647.5,444.2 649.5,445.1 651.5,446.0 653.5,446.9 655.5,447.8 657.5,448.7 659.5,449.5 661.5,450.4 663.5,451.3 665.5,452.2 667.5,453.0 669.5,453.9 671.5,454.7 673.5,455.5 675.5,456.3 677.5,457.1 679.5,457.9 681.5,458.7 683.5,459.5 685.5,460.3 687.5,461.1 689.5,461.8 691.5,462.6 693.5,463.3 695.5,464.1 697.5,464.8 699.5,465.5 701.5,466.3 703.5,467.0 705.5,467.7 707.5,468.4 709.5,469.1 711.5,469.9 713.5,470.6 715.5,471.3 717.5,472.0 719.5,472.7 721.5,473.4 723.5,474.0 725.5,474.7 727.5,475.4 729.5,476.1 731.5,476.8 733.5,477.5 735.5,478.2 737.5,478.9 739.5,479.5 741.5,480.2 743.5,480.9 745.5,481.5 747.5,482.2 749.5,482.9 751.5,483.5 753.5,484.2 755.5,484.8 757.5,485.5 759.5,486.1 761.5,486.8 763.5,487.4 765.5,488.0 767.5,488.6 769.5,489.2 771.5,489.7 773.5,490.3 775.5,490.9 777.5,491.4 779.5,492.0 781.5,492.5 783.5,493.0 785.5,493.5 787.5,494.0"/>
<polyline stroke="#808080" points="129.5,37.5 131.5,39.4 133.5,41.3 135.5,43.3 137.5,45.2 139.5,47.2 141.5,49.3 143.5,51.3 145.5,53.4 147.5,55.5 149.5,57.6 151.5,59.8 153.5,62.0 155.5,64.2 157.5,66.4 159.5,68.7 161.5,71.0 163.5,73.3 165.5,75.6 167.5,78.0 169.5,80.4 171.5,82.8 173.5,85.2 175.5,87.6 177.5,90.1 179.5,92.5 181.5,95.0 183.5,97.5 185.5,100.0 187.5,102.5 189.5,105.0 191.5,107.6 193.5,110.1 195.5,112.7 197.5,115.2 199.5,117.8 201.5,120.4 203.5,122.9 205.5,125.5 207.5,128.1 209.5,130.7 211.5,133.3 213.5,135.9 215.5,138.5 217.5,141.0 219.5,143.6 221.5,146.2 223.5,148.8 225.5,151.3 227.5,153.9 229.5,156.4 231.5,158.9 233.5,161.4 235.5,163.9 237.5,166.4 239.5,168.9 241.5,171.3 243.5,173.7 245.5,176.1 247.5,178.5 249.5,180.8 251.5,183.1 253.5,185.4 255.5,187.6 257.5,189.9 259.5,192.0 261.5,194.2 263.5,196.3 265.5,198.4 267.5,200.5 269.5,202.5 271.5,204.5 273.5,206.5 275.5,208.5 277.5,210.5 279.5,212.4 281.5,214.3 283.5,216.2 285.5,218.0 287.5,219.8 289.5,221.6 291.5,223.4 293.5,225.1 295.5,226.8 297.5,228.5 299.5,230.1 301.5,231.7 303.5,233.3 305.5,234.9 307.5,236.4 309.5,237.9 311.5,239.4 313.5,240.9 315.5,242.4 317.5,243.8 319.5,245.3 321.5,246.7 323.5,248.1 325.5,249.5 327.5,250.9 329.5,252.3 331.5,253.7 333.5,255.1 335.5,256.5 337.5,257.8 339.5,259.2 341.5,260.6 343.5,261.9 345.5,263.3 347.5,264.7 349.5,266.0 351.5,267.4 353.5,268.7 355.5,270.1 357.5,271.5 359.5,272.8 361.5,274.2 363.5,275.5 365.5,276.9 367.5,278.2 369.5,279.6 371.5,280.9 373.5,282.2 375.5,283.6 377.5,284.9 379.5,286.3 381.5,287.6 383.5,288.9 385.5,290.3 387.5,291.6 389.5,293.0 391.5,294.3 393.5,295.6 395.5,297.0 397.5,298.3 399.5,299.6 401.5,300.9 403.5,302.3 405.5,303.6 407.5,304.9 409.5,306.3 411.5,307.6 413.5,308.9 415.5,310.2 417.5,311.6 419.5,312.9 421.5,314.2 423.5,315.5 425.5,316.9 427.5,318.2 429.5,319.5 431.5,320.8 433.5,322.1 435.5,323.5 437.5,324.8 439.5,326.1 441.5,327.4 443.5,328.7 445.5,330.0 447.5,331.3 449.5,332.7 451.5,334.0 453.5,335.3 455.5,336.6 457.5,337.9 459.5,339.2 461.5,340.5 463.5,341.9 465.5,343.2 467.5,344.5 469.5,345.8 471.5,347.1 473.5,348.4 475.5,349.8 477.5,351.1 479.5,352.4 481.5,353.7 483.5,355.0 485.5,356.3 487.5,357.6 489.5,358.9 491.5,360.2 493.5,361.5 495.5,362.8 497.5,364.0 499.5,365.3 501.5,366.6 503.5,367.9 505.5,369.1 507.5,370.4 509.5,371.7 511.5,372.9 513.5,374.2 515.5,375.4 517.5,376.7 519.5,377.9 521.5,379.1 523.5,380.4 525.5,381.6 527.5,382.8 529.5,384.0 531.5,385.2 533.5,386.4 535.5,387.5 537.5,388.7 539.5,389.8 541.5,391.0 543.5,392.1 545.5,393.3 547.5,394.4 549.5,395.5 551.5,396.6 553.5,397.8 555.5,398.9 557.5,400.0 559.5,401.0 561.5,402.1 563.5,403.2 565.5,404.2 567.5,405.2 569.5,406.2 571.5,407.1 573.5,408.1 575.5,409.0 577.5,409.9 579.5,410.8 581.5,411.8 583.5,412.7 585.5,413.6 587.5,414.5 589.5,415.4 591.5,416.3 593.5,417.2 595.5,418.1 597.5,418.9 599.5,419.8 601.5,420.7 603.5,421.6 605.5,422.5 607.5,423.4 609.5,424.3 611.5,425.2 613.5,426.1 615.5,427.0 617.5,427.9 619.5,428.8 621.5,429.7 623.5,430.7 625.5,431.6 627.5,432.5 629.5,433.5 631.5,434.4 633.5,435.3 635.5,436.3 637.5,437.2 639.5,438.1 641.5,439.1 643.5,440.0 645.5,440.9 647.5,441.9 649.5,442.8 651.5,443.7 653.5,444.6 655.5,445.5 657.5,446.4 659.5,447.3 661.5,448.2 663.5,449.0 665.5,449.9 667.5,450.7 669.5,451.6 671.5,452.4 673.5,453.2 675.5,454.0 677.5,454.9 679.5,455.6 681.5,456.4 683.5,457.2 685.5,458.0 687.5,458.7 689.5,459.5 691.5,460.2 693.5,461.0 695.5,461.7 697.5,462.5 699.5,463.2 701.5,463.9 703.5,464.6 705.5,465.3 707.5,466.0 709.5,466.7 711.5,467.4 713.5,468.1 715.5,468.7 717.5,469.4 719.5,470.1 721.5,470.7 723.5,471.4 725.5,472.0 727.5,472.7 729.5,473.3 731.5,473.9 733.5,474.6 735.5,475.2 737.5,475.8 739.5,476.4 741.5,477.0 743.5,477.6 745.5,478.2 747.5,478.8 749.5,479.3 751.5,479.9 753.5,480.4 755.5,480.9 757.5,481.4 759.5,481.9 761.5,482.4 763.5,482.9 765.5,483.4 767.5,483.9 769.5,484.4 771.5,484.9 773.5,485.3 775.5,485.8 777.5,486.3 779.5,486.7 781.5,487.1 783.5,487.6 785.5,488.0 787.5,488.4"/>
</g>
<line x1="688.4" y1="57.50" x2="757" y2="57.50" stroke="#ff0000" stroke-width="2"/>
<line x1="688.4" y1="82.83" x2="757" y2="82.83" stroke="#00ff00" stroke-width="2"/>
<line x1="688.4" y1="108.16" x2="757" y2="108.16" stroke="#e5e500" stroke-width="2"/>
<line x1="688.4" y1="133.49" x2="757" y2="133.49" stroke="#ff00ff" stroke-width="2" stroke-dasharray="21 3.4"/>
<line x1="688.4" y1="158.82" x2="757" y2="158.82" stroke="#00e5e5" stroke-width="2"/>
<line x1="688.4" y1="184.15" x2="757" y2="184.15" stroke="#0000ff" stroke-width="2"/>
<line x1="688.4" y1="209.48" x2="757" y2="209.48" stroke="#000000" stroke-width="2"/>
<line x1="688.4" y1="234.81" x2="757" y2="234.81" stroke="#ff4c00" stroke-width="2" stroke-dasharray="7.2 2"/>
<line x1="688.4" y1="260.14" x2="757" y2="260.14" stroke="#808080" stroke-width="2"/>
<g stroke="#000" stroke-width="3" fill="none">
<path d="M129.50 497.50V490.00M129.50 37.50V45.00"/>
<path d="M294.00 497.50V490.00M294.00 37.50V45.00"/>
<path d="M458.50 497.50V490.00M458.50 37.50V45.00"/>
<path d="M623.00 497.50V490.00M623.00 37.50V45.00"/>
<path d="M787.50 497.50V490.00M787.50 37.50V45.00"/>
<path d="M129.50 37.50H137.00M787.50 37.50H780.00"/>
<path d="M129.50 121.14H137.00M787.50 121.14H780.00"/>
<path d="M129.50 204.77H137.00M787.50 204.77H780.00"/>
<path d="M129.50 288.41H137.00M787.50 288.41H780.00"/>
<path d="M129.50 372.05H137.00M787.50 372.05H780.00"/>
<path d="M129.50 455.68H137.00M787.50 455.68H780.00"/>
<rect x="129.5" y="37.5" width="658" height="460"/>
</g>
</svg>
<div id="t">
<div style="transform:translate(673.30px,66.90px) scale(0.30050,0.33333) translate(-100%,-70.34px)">ENZO</div>
<div style="transform:translate(673.30px,92.23px) scale(0.30396,0.33333) translate(-100%,-70.34px)">FLASH</div>
<div style="transform:translate(673.30px,117.56px) scale(0.31119,0.33333) translate(-100%,-70.34px)">KT-MHD</div>
<div style="transform:translate(673.30px,142.89px) scale(0.30427,0.33333) translate(-100%,-70.34px)">LL-MHD</div>
<div style="transform:translate(673.30px,168.22px) scale(0.30616,0.33333) translate(-100%,-70.34px)">PLUTO</div>
<div style="transform:translate(673.30px,193.55px) scale(0.30113,0.33333) translate(-100%,-70.34px)">PPML</div>
<div style="transform:translate(673.30px,218.88px) scale(0.30302,0.33333) translate(-100%,-70.34px)">RAMSES</div>
<div style="transform:translate(673.30px,244.21px) scale(0.31433,0.33333) translate(-100%,-70.34px)">STAGGER</div>
<div style="transform:translate(673.30px,269.54px) scale(0.30805,0.33333) translate(-100%,-70.34px)">ZEUS</div>
<div style="transform:translate(132.50px,532.90px) scale(0.30490,0.33333) translate(-50%,-70.34px)">0</div>
<div style="transform:translate(297.00px,532.90px) scale(0.30490,0.33333) translate(-50%,-70.34px)">0.05</div>
<div style="transform:translate(461.50px,532.90px) scale(0.30490,0.33333) translate(-50%,-70.34px)">0.1</div>
<div style="transform:translate(626.00px,532.90px) scale(0.30490,0.33333) translate(-50%,-70.34px)">0.15</div>
<div style="transform:translate(790.50px,532.90px) scale(0.30490,0.33333) translate(-50%,-70.34px)">0.2</div>
<div style="transform:translate(114.60px,46.50px) scale(0.31433,0.33333) translate(-100%,-70.34px)">1.6</div>
<div style="transform:translate(114.60px,130.14px) scale(0.31433,0.33333) translate(-100%,-70.34px)">1.4</div>
<div style="transform:translate(114.60px,213.77px) scale(0.31433,0.33333) translate(-100%,-70.34px)">1.2</div>
<div style="transform:translate(114.60px,297.41px) scale(0.31433,0.33333) translate(-100%,-70.34px)">1</div>
<div style="transform:translate(114.60px,381.05px) scale(0.31433,0.33333) translate(-100%,-70.34px)">0.8</div>
<div style="transform:translate(114.60px,464.68px) scale(0.31433,0.33333) translate(-100%,-70.34px)">0.6</div>
<div style="transform:translate(458.50px,570.00px) scale(0.31433,0.33333) translate(-50%,-70.34px)">t</div>
<div style="transform:translate(34.90px,338.00px) rotate(-90deg) scale(0.30647,0.33333) translate(0,-70.34px)">log<span class="s" style="top:.36em">10</span> &lt;u<span class="s" style="top:-.6em">2</span>&gt;/2</div>
</div></div></body></html>
